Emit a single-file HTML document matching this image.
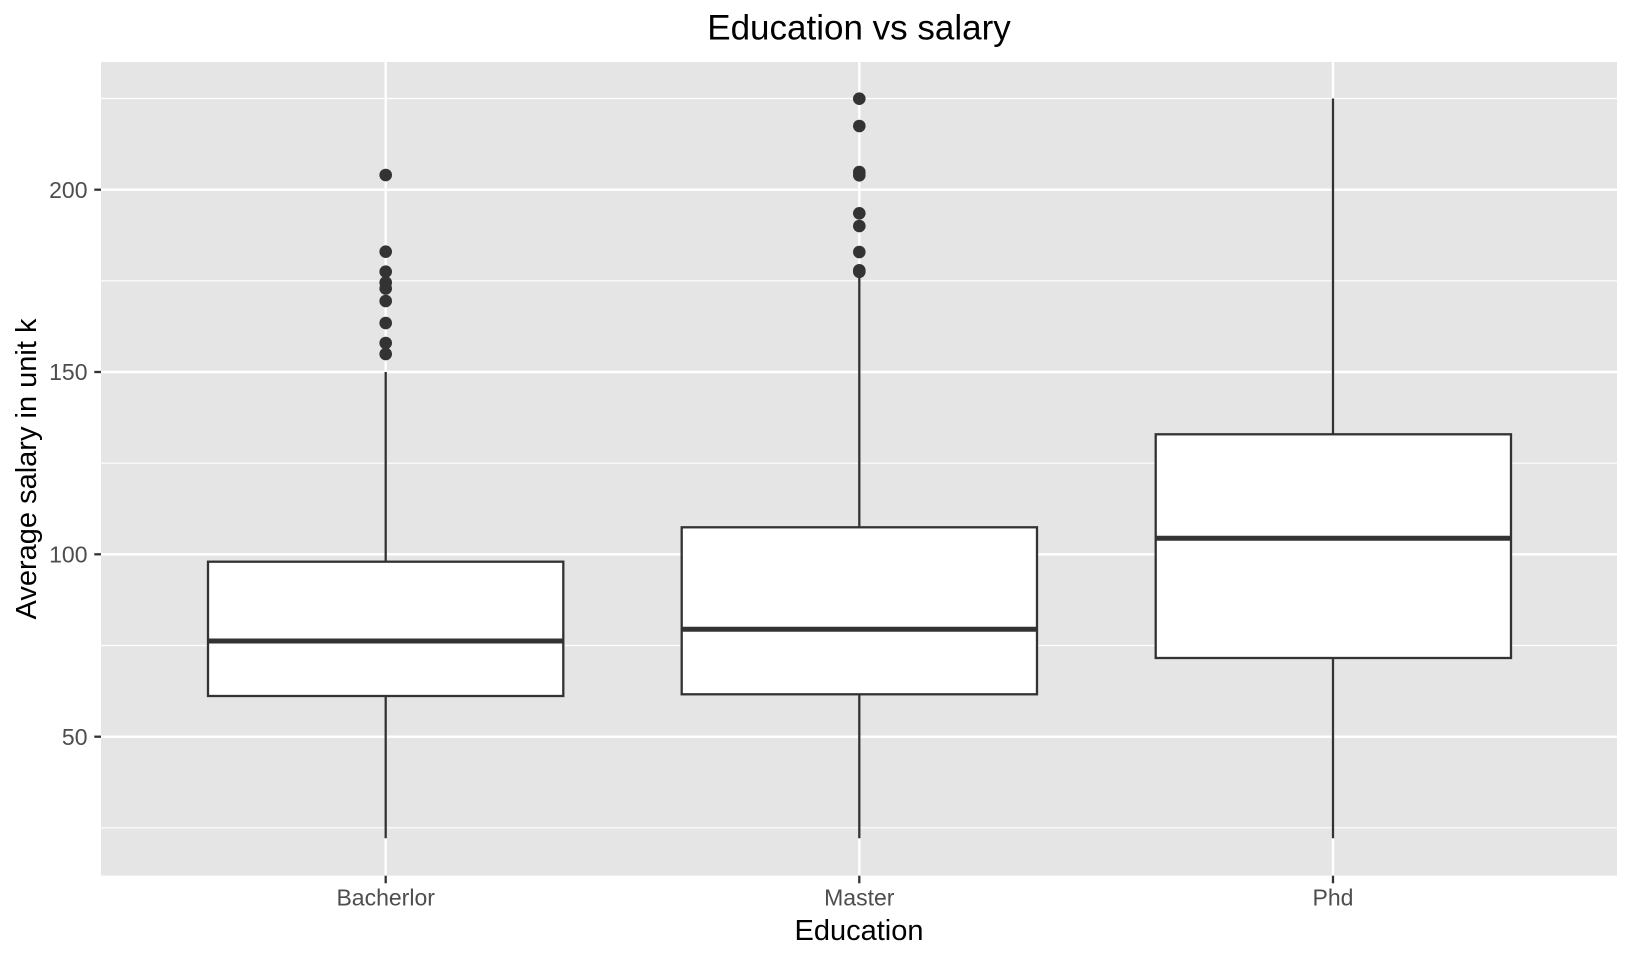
<!DOCTYPE html>
<html>
<head>
<meta charset="utf-8">
<style>
  html, body { margin: 0; padding: 0; background: #ffffff; }
  svg { display: block; }
  text { font-family: "Liberation Sans", Arial, sans-serif; }
</style>
</head>
<body>
<svg width="1632" height="960" viewBox="0 0 1632 960" xmlns="http://www.w3.org/2000/svg">
  <rect x="0" y="0" width="1632" height="960" fill="#ffffff"/>

  <!-- Title -->
  <text x="859" y="39.3" font-size="35" text-anchor="middle" fill="#000000">Education vs salary</text>

  <!-- Panel background -->
  <rect x="101" y="62" width="1516" height="813.7" fill="#E5E5E5"/>

  <!-- Minor gridlines -->
  <g stroke="#ffffff" stroke-width="1.2">
    <line x1="101" x2="1617" y1="98.5" y2="98.5"/>
    <line x1="101" x2="1617" y1="280.8" y2="280.8"/>
    <line x1="101" x2="1617" y1="463.2" y2="463.2"/>
    <line x1="101" x2="1617" y1="645.5" y2="645.5"/>
    <line x1="101" x2="1617" y1="827.8" y2="827.8"/>
  </g>
  <!-- Major gridlines -->
  <g stroke="#ffffff" stroke-width="2.4">
    <line x1="101" x2="1617" y1="189.7" y2="189.7"/>
    <line x1="101" x2="1617" y1="372" y2="372"/>
    <line x1="101" x2="1617" y1="554.3" y2="554.3"/>
    <line x1="101" x2="1617" y1="736.7" y2="736.7"/>
    <line x1="385.7" x2="385.7" y1="62" y2="875.7"/>
    <line x1="859.3" x2="859.3" y1="62" y2="875.7"/>
    <line x1="1333" x2="1333" y1="62" y2="875.7"/>
  </g>

  <!-- Whiskers -->
  <g stroke="#333333" stroke-width="2.3">
    <line x1="385.7" x2="385.7" y1="372" y2="561.7"/>
    <line x1="385.7" x2="385.7" y1="696" y2="838.3"/>
    <line x1="859.3" x2="859.3" y1="271" y2="527.3"/>
    <line x1="859.3" x2="859.3" y1="694.3" y2="838.3"/>
    <line x1="1333" x2="1333" y1="98.5" y2="434.3"/>
    <line x1="1333" x2="1333" y1="658" y2="838.3"/>
  </g>

  <!-- Boxes -->
  <g stroke="#333333" stroke-width="2.3" fill="#ffffff">
    <rect x="208" y="561.7" width="355.3" height="134.3"/>
    <rect x="681.7" y="527.3" width="355.3" height="167"/>
    <rect x="1155.7" y="434.3" width="355.3" height="223.7"/>
  </g>
  <!-- Medians -->
  <g stroke="#333333" stroke-width="5">
    <line x1="208" x2="563.3" y1="641" y2="641"/>
    <line x1="681.7" x2="1037" y1="629.3" y2="629.3"/>
    <line x1="1155.7" x2="1511" y1="538.3" y2="538.3"/>
  </g>

  <!-- Outliers -->
  <g fill="#333333">
    <circle cx="385.7" cy="175" r="6.3"/>
    <circle cx="385.7" cy="251.7" r="6.3"/>
    <circle cx="385.7" cy="271.7" r="6.3"/>
    <circle cx="385.7" cy="282.5" r="6.3"/>
    <circle cx="385.7" cy="288.5" r="6.3"/>
    <circle cx="385.7" cy="301" r="6.3"/>
    <circle cx="385.7" cy="323" r="6.3"/>
    <circle cx="385.7" cy="343" r="6.3"/>
    <circle cx="385.7" cy="354" r="6.3"/>

    <circle cx="859.3" cy="98.7" r="6.3"/>
    <circle cx="859.3" cy="126" r="6.3"/>
    <circle cx="859.3" cy="172" r="6.3"/>
    <circle cx="859.3" cy="175.3" r="6.3"/>
    <circle cx="859.3" cy="213.3" r="6.3"/>
    <circle cx="859.3" cy="226" r="6.3"/>
    <circle cx="859.3" cy="252" r="6.3"/>
    <circle cx="859.3" cy="270.3" r="6.3"/>
    <circle cx="859.3" cy="271.8" r="6.3"/>
  </g>

  <!-- Y axis ticks -->
  <g stroke="#333333" stroke-width="2.3">
    <line x1="94.3" x2="101" y1="189.7" y2="189.7"/>
    <line x1="94.3" x2="101" y1="372" y2="372"/>
    <line x1="94.3" x2="101" y1="554.3" y2="554.3"/>
    <line x1="94.3" x2="101" y1="736.7" y2="736.7"/>
    <line x1="385.7" x2="385.7" y1="875.7" y2="883.3"/>
    <line x1="859.3" x2="859.3" y1="875.7" y2="883.3"/>
    <line x1="1333" x2="1333" y1="875.7" y2="883.3"/>
  </g>

  <!-- Y tick labels -->
  <g font-size="23" fill="#4D4D4D" text-anchor="end">
    <text x="87.5" y="197.9">200</text>
    <text x="87.5" y="380.2">150</text>
    <text x="87.5" y="562.5">100</text>
    <text x="87.5" y="744.9">50</text>
  </g>

  <!-- X tick labels -->
  <g font-size="23" fill="#4D4D4D" text-anchor="middle">
    <text x="385.7" y="905.7">Bacherlor</text>
    <text x="859.3" y="905.7">Master</text>
    <text x="1333" y="905.7">Phd</text>
  </g>

  <!-- Axis titles -->
  <text x="859" y="940" font-size="29" text-anchor="middle" fill="#000000">Education</text>
  <text transform="translate(36,469) rotate(-90)" x="0" y="0" font-size="29" text-anchor="middle" fill="#000000">Average salary in unit k</text>
</svg>
</body>
</html>
